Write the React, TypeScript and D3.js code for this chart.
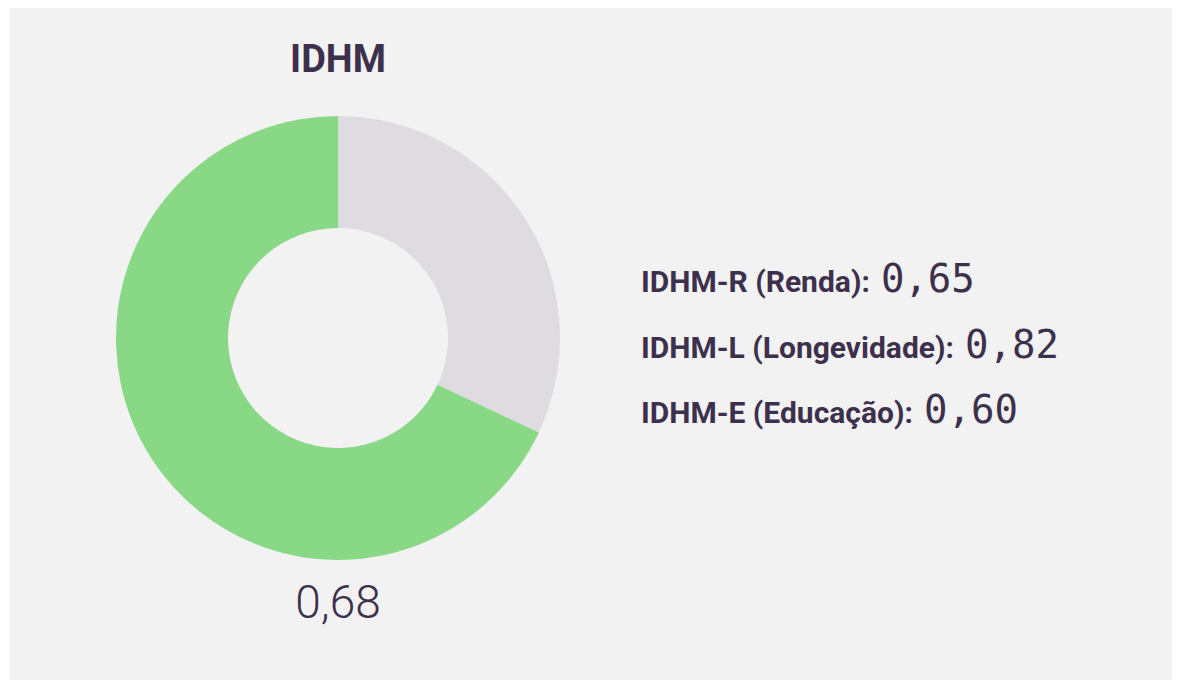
import React, { useEffect } from "react";
import * as d3 from "d3";

const title = "IDHM";
const idhm = 0.68;
const subLabels = ["IDHM-R (Renda):", "IDHM-L (Longevidade):", "IDHM-E (Educação):"];
const subValues = [0.65, 0.82, 0.6];

const W = 1181;
const H = 681;
const textColor = "#3c304c";

const fmt = (v: number) => v.toFixed(2).replace(".", ",");

const App = () => {
  useEffect(() => {
    document.body.style.margin = "0";
  }, []);

  const cx = 338;
  const cy = 338;
  const outer = 222;
  const inner = 110;

  // gray remainder first, clockwise from 12 o'clock, then the green share
  const slices = [
    { key: "resto", value: 1 - idhm, color: "#dedce1" },
    { key: "idhm", value: idhm, color: "#88d885" },
  ];
  const pie = d3.pie<any>().sort(null).value((d) => d.value);
  const arc = d3.arc<any>().innerRadius(inner).outerRadius(outer);
  const arcs = pie(slices);

  const y = d3.scalePoint<string>().domain(subLabels).range([292, 423]);

  return (
    <svg width={W} height={H} style={{ display: "block" }}>
      <rect x={0} y={0} width={W} height={H} fill="#ffffff" />
      <rect x={10} y={8} width={1162} height={672} fill="#f2f2f2" />
      <text
        x={cx}
        y={72}
        textAnchor="middle"
        fontFamily="Roboto"
        fontWeight={700}
        fontSize={38}
        fill={textColor}
      >
        {title}
      </text>
      <g transform={`translate(${cx},${cy})`}>
        {arcs.map((a) => (
          <path key={a.data.key} d={arc(a) || ""} fill={a.data.color} />
        ))}
      </g>
      <text
        x={cx}
        y={618}
        textAnchor="middle"
        fontFamily="Roboto"
        fontWeight={300}
        fontSize={46}
        fill={textColor}
      >
        {fmt(idhm)}
      </text>
      {subLabels.map((l, i) => (
        <text key={l} x={641} y={y(l)} fill={textColor}>
          <tspan fontFamily="Roboto" fontWeight={700} fontSize={30}>
            {l}
          </tspan>
          <tspan dx={11} fontFamily="DejaVu Sans Mono" fontSize={39}>
            {fmt(subValues[i])}
          </tspan>
        </text>
      ))}
    </svg>
  );
};

export default App;
